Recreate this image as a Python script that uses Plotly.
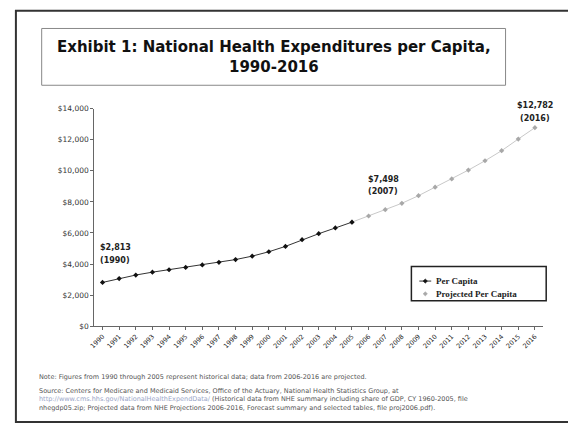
import plotly.graph_objects as go

W, H = 568, 430

years_hist = [1990, 1991, 1992, 1993, 1994, 1995, 1996, 1997, 1998, 1999, 2000,
              2001, 2002, 2003, 2004, 2005]
per_capita = [2813, 3061, 3290, 3475, 3629, 3783, 3940, 4106, 4286, 4508, 4789,
              5135, 5568, 5952, 6322, 6697]
years_proj = [2005, 2006, 2007, 2008, 2009, 2010, 2011, 2012, 2013, 2014, 2015, 2016]
projected = [6697, 7092, 7498, 7911, 8400, 8950, 9480, 10050, 10650, 11300, 12050, 12782]

all_years = list(range(1990, 2017))
y_ticks = [0, 2000, 4000, 6000, 8000, 10000, 12000, 14000]
y_tick_labels = ["$0", "$2,000", "$4,000", "$6,000", "$8,000", "$10,000", "$12,000", "$14,000"]

callout_years = [1990, 2007, 2016]
callout_values = [2813, 7498, 12782]
callout_texts = ["$2,813", "$7,498", "$12,782"]


def px(x):
    return x / W


def py(y):
    return 1 - y / H


FONT = "DejaVu Sans"
HIST_LINE = "#333333"
HIST_MARK = "#111111"
PROJ_LINE = "#c8c8c8"
PROJ_MARK = "#a8a8a8"

fig = go.Figure()
fig.add_trace(go.Scatter(
    x=years_proj, y=projected, name="Projected Per Capita", mode="lines+markers",
    line=dict(color=PROJ_LINE, width=1),
    marker=dict(color=PROJ_MARK, size=4, symbol="diamond"),
    showlegend=False,
))
fig.add_trace(go.Scatter(
    x=years_hist, y=per_capita, name="Per Capita", mode="lines+markers",
    line=dict(color=HIST_LINE, width=1),
    marker=dict(color=HIST_MARK, size=4, symbol="diamond"),
    showlegend=False,
))

annotations = []
# (xshift, value-line yshift, year-line yshift, anchor)
shifts = {1990: (-5, 35, 22, "left"), 2007: (-2, 30, 18, "center"), 2016: (0, 22, 9, "center")}
lab_font = dict(family=FONT, size=8, color="#222222")
for yr, val, txt in zip(callout_years, callout_values, callout_texts):
    xs, yv, yy, anc = shifts[yr]
    annotations.append(dict(x=yr, y=val, xref="x", yref="y", text="<b>" + txt + "</b>",
                            showarrow=False, xanchor=anc, yanchor="middle",
                            xshift=xs, yshift=yv, font=lab_font))
    annotations.append(dict(x=yr, y=val, xref="x", yref="y", text="<b>(" + str(yr) + ")</b>",
                            showarrow=False, xanchor=anc, yanchor="middle",
                            xshift=xs, yshift=yy, font=lab_font))

# Title
annotations.append(dict(
    x=px(271), y=py(54), xref="paper", yref="paper",
    text="<b>Exhibit 1: National Health Expenditures per Capita,<br>1990-2016</b>",
    showarrow=False, xanchor="center", yanchor="middle", align="center",
    font=dict(family=FONT, size=15, color="#111111"),
))

# Notes
note_font = dict(family=FONT, size=6.5, color="#555555")
annotations.append(dict(
    x=px(32), y=py(381), xref="paper", yref="paper", showarrow=False,
    xanchor="left", yanchor="middle", align="left", font=note_font,
    text="Note: Figures from 1990 through 2005 represent historical data; data from 2006-2016 are projected.",
))
annotations.append(dict(
    x=px(32), y=py(404), xref="paper", yref="paper", showarrow=False,
    xanchor="left", yanchor="middle", align="left", font=note_font,
    text=("Source: Centers for Medicare and Medicaid Services, Office of the Actuary, National Health Statistics Group, at<br>"
          "<span style='color:#9aa6c8'>http://www.cms.hhs.gov/NationalHealthExpendData/</span> (Historical data from NHE summary including share of GDP, CY 1960-2005, file<br>"
          "nhegdp05.zip; Projected data from NHE Projections 2006-2016, Forecast summary and selected tables, file proj2006.pdf)."),
))

# Custom legend
leg_font = dict(family="Liberation Serif", size=9, color="#222222")
legend_names = ["Per Capita", "Projected Per Capita"]
legend_rows = [283, 296]
annotations.append(dict(x=px(433), y=py(legend_rows[0]), xref="paper", yref="paper", showarrow=False,
                        xanchor="left", yanchor="middle", text="<b>" + legend_names[0] + "</b>", font=leg_font))
annotations.append(dict(x=px(433), y=py(legend_rows[1]), xref="paper", yref="paper", showarrow=False,
                        xanchor="left", yanchor="middle", text="<b>" + legend_names[1] + "</b>", font=leg_font))


def diamond(cx, cy, r, color):
    path = "M {} {} L {} {} L {} {} L {} {} Z".format(
        px(cx), py(cy - r), px(cx + r), py(cy), px(cx), py(cy + r), px(cx - r), py(cy))
    return dict(type="path", xref="paper", yref="paper", path=path,
                fillcolor=color, line=dict(color=color, width=0.5))


shapes = [
    dict(type="rect", xref="paper", yref="paper", x0=px(11), x1=px(580), y0=py(427), y1=py(7),
         line=dict(color="#333333", width=2)),
    dict(type="rect", xref="paper", yref="paper", x0=px(37), x1=px(505), y0=py(83), y1=py(25),
         line=dict(color="#888888", width=1)),
    dict(type="rect", xref="paper", yref="paper", x0=px(410), x1=px(546), y0=py(303), y1=py(268),
         line=dict(color="#222222", width=1.5), fillcolor="white", layer="above"),
    dict(type="line", xref="paper", yref="paper", x0=px(418), x1=px(430),
         y0=py(legend_rows[0]), y1=py(legend_rows[0]), line=dict(color=HIST_LINE, width=1)),
    diamond(424, legend_rows[0], 2.2, HIST_MARK),
    diamond(424, legend_rows[1], 2.2, PROJ_MARK),
]

fig.update_layout(
    width=W, height=H,
    margin=dict(l=0, r=0, t=0, b=0),
    paper_bgcolor="white", plot_bgcolor="white",
    showlegend=False,
    xaxis=dict(
        domain=[px(90), px(543)], range=[1989.5, 2016.5],
        tickmode="array", tickvals=all_years, ticktext=[str(y) for y in all_years],
        tickangle=-45, tickfont=dict(family=FONT, size=6.5, color="#222222"),
        showgrid=False, zeroline=False, showline=True, linecolor="#666666", linewidth=1,
        ticks="outside", ticklen=3, tickcolor="#666666",
    ),
    yaxis=dict(
        domain=[py(329), py(107)], range=[0, 14000],
        tickmode="array", tickvals=y_ticks, ticktext=y_tick_labels,
        tickfont=dict(family=FONT, size=7.5, color="#333333"),
        showgrid=False, zeroline=False, showline=True, linecolor="#666666", linewidth=1,
        ticks="outside", ticklen=3, tickcolor="#666666",
    ),
    annotations=annotations,
    shapes=shapes,
)

fig.write_html("out.html", config={"displayModeBar": False},
               post_script="document.body.style.margin='0';")
